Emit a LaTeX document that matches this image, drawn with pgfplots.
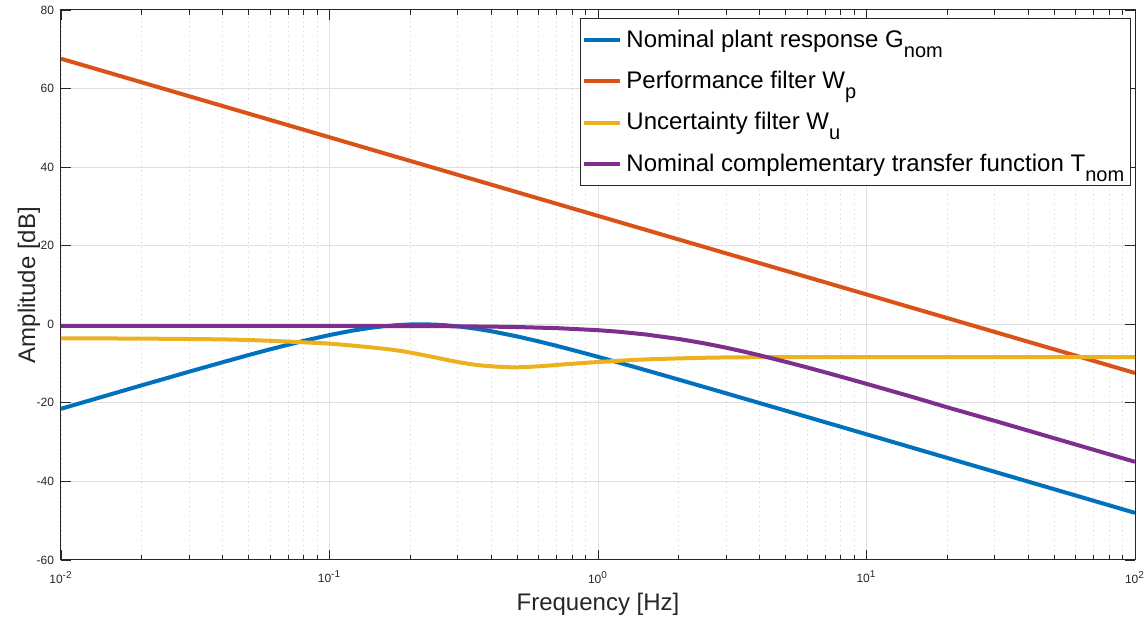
\documentclass[border=0pt]{standalone}
\usepackage{fontspec}
\setmainfont{Liberation Sans}
\usepackage{pgfplots}
\pgfplotsset{compat=1.18}
\usetikzlibrary{calc}
\definecolor{mblue}{rgb}{0,0.447,0.741}
\definecolor{morange}{rgb}{0.850,0.325,0.098}
\definecolor{myellow}{rgb}{0.929,0.694,0.125}
\definecolor{mpurple}{rgb}{0.494,0.184,0.556}
\definecolor{axcol}{rgb}{0.15,0.15,0.15}
\newcommand{\sub}[1]{\raisebox{-5pt}{\fontsize{10}{11}\selectfont #1}}
\begin{document}
\begin{tikzpicture}
\begin{axis}[
  scale only axis, width=537pt, height=275pt,
  xmode=log, xmin=0.01, xmax=100, ymin=-60, ymax=80,
  xtick={0.01,0.1,1,10,100},
  xticklabels={10\textsuperscript{-2},10\textsuperscript{-1},10\textsuperscript{0},10\textsuperscript{1},10\textsuperscript{2}},
  ytick={-60,-40,-20,0,20,40,60,80},
  yticklabels={-60,-40,-20,0,20,40,60,80},
  xmajorgrids, xminorgrids, ymajorgrids,
  major grid style={color=black!12, line width=0.5pt},
  minor grid style={color=black!18, dotted, line width=0.4pt},
  tick align=inside, major tick length=5pt, minor tick length=2.5pt,
  axis line style={color=axcol, line width=0.5pt},
  every tick/.style={color=axcol, line width=0.4pt},
  tick label style={font=\fontsize{6}{7}\selectfont, color=axcol},
  xticklabel style={yshift=-2pt},
  label style={font=\fontsize{12}{14}\selectfont, color=axcol},
  xlabel={Frequency [Hz]}, ylabel={Amplitude [dB]},
  xlabel style={at={(axis description cs:0.5,0)}, anchor=center, yshift=-22pt},
  ylabel style={at={(axis description cs:0,0.5)}, anchor=center, yshift=16pt},
  legend style={at={(0.996,0.985)}, anchor=north east, draw=axcol, line width=0.5pt,
    font=\fontsize{12}{14}\selectfont, cells={anchor=west}, inner xsep=1pt, inner ysep=3.5pt,
    row sep=6.5pt},
  legend image code/.code={\draw[#1, line width=2pt] (0pt,0pt) -- (18pt,0pt);},
  every axis plot/.append style={line width=2pt},
]
\addplot[mblue] table {
0.01 -21.51
0.02 -15.53
0.03 -12.07
0.04 -9.66
0.05 -7.83
0.06 -6.38
0.08 -4.23
0.1 -2.74
0.12 -1.69
0.14 -0.96
0.16 -0.48
0.18 -0.19
0.2 -0.04
0.2175 0.0
0.23 -0.02
0.25 -0.10
0.27 -0.24
0.3 -0.52
0.35 -1.11
0.4 -1.76
0.5 -3.09
0.6 -4.34
0.7 -5.47
0.85 -6.98
1 -8.28
1.2 -9.78
1.5 -11.65
2 -14.09
3 -17.57
5 -21.99
10 -28.0
20 -34.02
50 -41.98
100 -48.0
};
\addlegendentry{Nominal plant response G\sub{nom}}
\addplot[morange] table {
0.01 67.6
0.1 47.6
1 27.6
10 7.6
100 -12.4
};
\addlegendentry{Performance filter W\sub{p}}
\addplot[myellow, smooth] table {
0.01 -3.57
0.02 -3.65
0.04 -3.85
0.06 -4.2
0.08 -4.6
0.1 -4.93
0.13 -5.6
0.17 -6.45
0.2 -7.2
0.25 -8.5
0.3 -9.6
0.37 -10.5
0.48 -10.95
0.6 -10.7
0.75 -10.2
1.0 -9.6
1.5 -8.95
2.6 -8.5
4 -8.38
10 -8.35
100 -8.35
};
\addlegendentry{Uncertainty filter W\sub{u}}
\addplot[mpurple] table {
0.01 -0.40
0.1 -0.41
0.2 -0.45
0.3 -0.51
0.4 -0.60
0.5 -0.70
0.7 -0.98
1 -1.50
1.2 -1.91
1.5 -2.58
2 -3.74
2.5 -4.88
3 -5.96
3.5 -6.97
4 -7.90
5 -9.55
6 -10.97
7 -12.21
8 -13.30
10 -15.16
15 -18.60
20 -21.14
30 -24.57
50 -29.0
70 -31.92
100 -35.01
};
\addlegendentry{Nominal complementary transfer function T\sub{nom}}
\end{axis}
\pgfresetboundingbox
\path ($(current axis.south west)+(-30.5pt,-29.5pt)$) rectangle ($(current axis.north east)+(6.5pt,5pt)$);
\end{tikzpicture}
\end{document}
